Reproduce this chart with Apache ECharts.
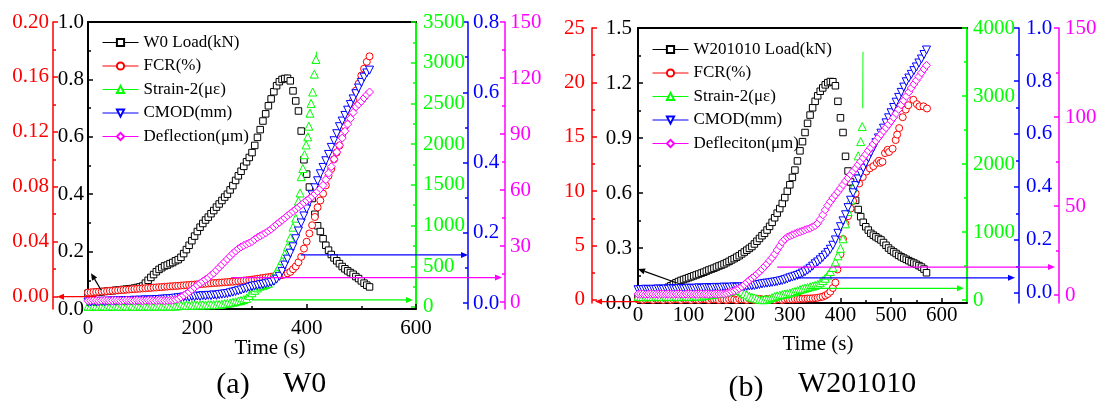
<!DOCTYPE html>
<html>
<head>
<meta charset="utf-8">
<script src="https://cdn.jsdelivr.net/npm/echarts@6/dist/echarts.min.js"></script>
<style>
  html, body { margin: 0; padding: 0; background: #ffffff; }
  #chart { width: 1100px; height: 401px; }
</style>
</head>
<body>
<div id="chart"></div>
<script>
// ---------------- Specimen W0 ----------------
const timeA = [
  0,5,10,15,20,25,30,35,40,45,
  50,55,60,65,70,75,80,85,90,95,
  100,105,110,115,120,125,130,135,140,145,
  150,155,160,165,170,175,180,185,190,195,
  200,205,210,215,220,225,230,235,240,245,
  250,255,260,265,270,275,280,285,290,295,
  300,305,310,315,320,325,330,335,340,345,
  350,355,360,365,370,375,380,385,390,395,
  400,405,410,415,420,425,430,435,440,445,
  450,455,460,465,470,475,480,485,490,495,
  500,505,510,515
];
const loadA = [
  0.055,0.056,0.057,0.058,0.059,0.060,0.061,0.062,0.063,0.064,
  0.065,0.066,0.067,0.068,0.069,0.070,0.071,0.073,0.075,0.077,
  0.080,0.090,0.100,0.110,0.120,0.130,0.138,0.144,0.150,0.153,
  0.158,0.162,0.168,0.172,0.180,0.193,0.207,0.222,0.238,0.254,
  0.270,0.285,0.298,0.310,0.320,0.332,0.343,0.355,0.366,0.378,
  0.390,0.400,0.415,0.430,0.448,0.464,0.480,0.497,0.513,0.528,
  0.545,0.570,0.598,0.625,0.655,0.680,0.708,0.732,0.757,0.778,
  0.792,0.800,0.803,0.804,0.795,0.760,0.725,0.690,0.620,0.520,
  0.470,0.425,0.385,0.330,0.290,0.270,0.245,0.222,0.205,0.190,
  0.178,0.168,0.158,0.148,0.140,0.133,0.127,0.121,0.113,0.106,
  0.098,0.090,0.083,0.077
];
const fcrA = [
  0.0030,0.0031,0.0033,0.0034,0.0036,0.0037,0.0039,0.0040,0.0042,0.0043,
  0.0045,0.0046,0.0048,0.0049,0.0051,0.0052,0.0054,0.0055,0.0057,0.0058,
  0.0060,0.0061,0.0063,0.0064,0.0066,0.0067,0.0069,0.0070,0.0072,0.0073,
  0.0075,0.0076,0.0078,0.0079,0.0081,0.0082,0.0084,0.0085,0.0087,0.0088,
  0.0090,0.0091,0.0093,0.0094,0.0096,0.0097,0.0099,0.0100,0.0102,0.0103,
  0.0105,0.0106,0.0108,0.0109,0.0111,0.0113,0.0115,0.0117,0.0119,0.0121,
  0.0124,0.0127,0.0130,0.0133,0.0136,0.0139,0.0142,0.0145,0.0148,0.0150,
  0.0153,0.0157,0.0163,0.0170,0.0180,0.0200,0.0220,0.0250,0.0290,0.0350,
  0.0400,0.0460,0.0520,0.0580,0.0650,0.0700,0.0750,0.0810,0.0880,0.0930,
  0.1000,0.1050,0.1100,0.1180,0.1240,0.1300,0.1370,0.1430,0.1500,0.1550,
  0.1610,0.1660,0.1710,0.1750
];
const cmodA = [
  0.003,0.003,0.004,0.003,0.004,0.005,0.004,0.005,0.005,0.006,
  0.005,0.006,0.006,0.007,0.006,0.007,0.007,0.008,0.007,0.008,
  0.008,0.009,0.008,0.009,0.009,0.010,0.010,0.011,0.011,0.012,
  0.012,0.013,0.014,0.015,0.016,0.017,0.018,0.017,0.019,0.018,
  0.020,0.019,0.021,0.020,0.022,0.021,0.023,0.022,0.024,0.025,
  0.026,0.027,0.029,0.031,0.033,0.035,0.037,0.040,0.042,0.045,
  0.047,0.049,0.050,0.052,0.053,0.055,0.057,0.059,0.062,0.068,
  0.076,0.090,0.108,0.125,0.142,0.160,0.183,0.205,0.228,0.248,
  0.268,0.288,0.308,0.328,0.348,0.368,0.386,0.405,0.423,0.443,
  0.462,0.482,0.502,0.518,0.534,0.549,0.565,0.581,0.596,0.612,
  0.628,0.643,0.655,0.663
];
const deflA = [
  0.7,0.8,0.9,0.8,0.7,0.8,0.9,0.8,0.7,0.8,
  0.9,0.8,0.7,0.8,0.9,0.8,0.7,0.8,0.9,0.8,
  0.7,0.8,0.9,0.8,0.7,0.8,0.9,0.8,0.7,0.8,
  0.9,1.0,1.2,1.8,2.6,3.5,4.4,5.4,6.6,7.8,
  9.0,10.0,11.0,12.0,13.0,14.3,15.5,17.0,18.5,20.0,
  21.5,23.0,24.5,26.0,27.3,28.5,29.5,30.3,31.0,31.6,
  32.4,33.5,34.6,35.4,36.2,37.0,38.0,39.0,40.3,41.5,
  42.7,43.8,45.0,46.2,47.4,48.5,49.7,50.8,52.0,53.2,
  54.3,55.4,56.5,57.8,59.2,60.7,62.5,65.5,69.0,72.5,
  76.5,80.3,84.0,87.8,91.5,95.3,98.3,101.5,104.5,106.0,
  107.5,109.3,111.0,112.5
];
// strain gauge readings on their own clock; the final reading has no marker
const strainATime = [
  0,5,10,15,20,25,30,35,40,45,
  50,55,60,65,70,75,80,85,90,95,
  100,105,110,115,120,125,130,135,140,145,
  150,155,160,165,170,175,180,185,190,195,
  200,205,210,215,220,225,230,235,240,245,
  250,255,260,265,270,275,280,285,290,295,
  300,305,310,315,320,325,330,335,340,345,
  350,355,360,365,370,375,380,385,
  388,390,393,396,399,402,404,406,408,411,414,417,418
];
const strainA = [
  8,10,9,11,10,8,12,10,9,11,
  10,12,9,10,11,10,12,10,9,11,
  10,12,11,10,13,11,12,10,12,13,
  11,12,12,15,18,20,22,20,24,22,
  25,24,26,25,28,27,30,28,32,35,
  40,45,50,58,65,72,80,92,105,140,
  175,205,235,255,265,275,290,330,380,440,
  500,570,650,740,850,980,1090,1300,
  1400,1600,1700,1870,1990,2090,2220,2380,2500,2640,2860,3040,3135
];

// ---------------- Specimen W201010 ----------------
const timeB = [
  0,5,10,15,20,25,30,35,40,45,
  50,55,60,65,70,75,80,85,90,95,
  100,105,110,115,120,125,130,135,140,145,
  150,155,160,165,170,175,180,185,190,195,
  200,205,210,215,220,225,230,235,240,245,
  250,255,260,265,270,275,280,285,290,295,
  300,305,310,315,320,325,330,335,340,345,
  350,355,360,365,370,375,380,385,390,395,
  400,405,410,415,420,425,430,435,440,445,
  450,455,460,465,470,475,480,485,490,495,
  500,505,510,515,520,525,530,535,540,545,
  550,555,560,565,570
];
const loadB = [
  0.030,0.032,0.034,0.036,0.038,0.040,0.043,0.048,0.055,0.062,
  0.070,0.078,0.086,0.094,0.102,0.110,0.117,0.123,0.128,0.133,
  0.138,0.143,0.148,0.153,0.158,0.163,0.168,0.174,0.180,0.185,
  0.190,0.196,0.202,0.207,0.213,0.220,0.227,0.235,0.242,0.250,
  0.258,0.268,0.278,0.288,0.298,0.308,0.322,0.337,0.352,0.367,
  0.380,0.398,0.418,0.440,0.465,0.490,0.515,0.543,0.575,0.610,
  0.645,0.685,0.725,0.775,0.830,0.880,0.930,0.980,1.025,1.065,
  1.100,1.130,1.155,1.173,1.190,1.202,1.208,1.207,1.185,1.100,
  1.010,0.930,0.800,0.720,0.660,0.625,0.560,0.510,0.471,0.440,
  0.416,0.398,0.380,0.370,0.361,0.352,0.344,0.330,0.315,0.300,
  0.288,0.279,0.270,0.260,0.252,0.245,0.238,0.231,0.224,0.218,
  0.211,0.204,0.196,0.185,0.165
];
const cmodB = [
  0.012,0.013,0.012,0.014,0.013,0.012,0.014,0.013,0.015,0.014,
  0.013,0.015,0.014,0.016,0.015,0.014,0.016,0.017,0.015,0.016,
  0.018,0.017,0.016,0.018,0.019,0.017,0.018,0.020,0.019,0.018,
  0.020,0.021,0.019,0.020,0.022,0.021,0.020,0.022,0.023,0.021,
  0.022,0.023,0.024,0.025,0.026,0.027,0.028,0.030,0.032,0.034,
  0.036,0.037,0.038,0.040,0.041,0.043,0.045,0.047,0.050,0.053,
  0.057,0.060,0.063,0.066,0.070,0.075,0.080,0.086,0.093,0.101,
  0.110,0.117,0.125,0.134,0.143,0.153,0.165,0.180,0.200,0.225,
  0.250,0.272,0.295,0.322,0.350,0.378,0.405,0.430,0.452,0.471,
  0.490,0.510,0.530,0.548,0.567,0.585,0.603,0.622,0.642,0.661,
  0.680,0.700,0.720,0.738,0.757,0.777,0.797,0.811,0.825,0.839,
  0.853,0.868,0.883,0.900,0.917
];
const deflB = [
  0.5,0.6,0.5,0.4,0.5,0.6,0.5,0.5,0.4,0.5,
  0.6,0.5,0.5,0.4,0.5,0.6,0.5,0.5,0.4,0.5,
  0.6,0.5,0.5,0.4,0.5,0.6,0.5,0.5,0.4,0.5,
  0.6,0.5,0.5,0.6,0.7,1.0,1.4,1.9,2.4,3.0,
  3.7,4.6,5.8,7.0,8.3,9.5,10.5,11.8,13.0,14.5,
  16.0,17.5,19.2,21.0,23.0,25.3,27.5,29.7,31.3,32.5,
  33.2,33.8,34.4,35.0,35.5,36.0,36.6,37.1,37.5,38.3,
  39.0,40.2,42.5,45.0,47.8,50.3,52.5,54.5,56.2,58.0,
  60.0,62.0,64.0,65.8,67.6,69.5,71.3,73.2,75.0,77.0,
  79.0,81.0,82.8,84.8,86.6,88.4,90.3,92.2,94.0,95.9,
  97.8,99.8,102.0,104.3,106.8,109.2,111.6,114.0,116.3,118.5,
  120.6,122.7,124.8,127.0,129.0
];
// the last two strain readings carry no marker
const strainBTime = [
  0,5,10,15,20,25,30,35,40,45,
  50,55,60,65,70,75,80,85,90,95,
  100,105,110,115,120,125,130,135,140,145,
  150,155,160,165,170,175,180,185,190,195,
  200,205,210,215,220,225,230,235,240,245,
  250,255,260,265,270,275,280,285,290,295,
  300,305,310,315,320,325,330,335,340,345,
  350,355,360,365,370,375,380,385,390,395,
  400,405,410,415,420,425,430,435,440,443,444,444.5
];
const strainB = [
  50,48,52,50,47,51,53,49,50,52,
  48,51,50,53,49,52,50,54,51,55,
  53,56,54,58,57,60,62,68,74,80,
  85,90,96,102,108,116,125,134,142,148,
  140,120,95,75,55,40,30,20,10,5,
  5,10,20,35,50,62,72,80,88,95,
  105,115,125,140,155,165,175,185,195,205,
  215,230,255,285,320,365,420,480,560,650,
  760,900,1120,1300,1470,1650,1900,2120,2330,2550,2820,3650
];
const fcrBTime = [
  0,5,10,15,20,25,30,35,40,45,
  50,55,60,65,70,75,80,85,90,95,
  100,105,110,115,120,125,130,135,140,145,
  150,155,160,165,170,175,180,185,190,195,
  200,205,210,215,220,225,230,235,240,245,
  250,255,260,265,270,275,280,285,290,295,
  300,305,310,315,320,325,330,335,340,345,
  350,355,360,365,370,375,380,385,390,
  394,400,405,410,415,420,425,430,437,444,
  451,458,465,472,476,479,483,488,493,496,
  503,509,512,516,523,529,534,544,551,556,
  564,571
];
const fcrB = [
  0.05,0.10,0.00,0.05,0.10,0.05,0.00,0.10,0.05,0.05,
  0.00,0.10,0.05,0.00,0.05,0.10,0.05,0.00,0.10,0.05,
  0.05,0.00,0.10,0.05,0.00,0.05,0.10,0.05,0.00,0.10,
  0.05,0.05,0.00,0.10,0.05,0.00,0.05,0.10,0.05,0.00,
  0.10,0.05,0.05,0.00,0.10,0.05,0.00,0.05,0.10,0.05,
  0.00,0.10,0.05,0.05,0.00,0.10,0.05,0.00,0.05,0.10,
  0.05,0.06,0.08,0.09,0.10,0.11,0.12,0.13,0.14,0.15,
  0.17,0.20,0.25,0.30,0.40,0.55,0.76,1.10,1.60,
  2.8,4.2,5.6,7.0,7.7,8.4,9.1,9.8,10.7,11.3,
  11.8,12.1,12.3,12.6,12.8,12.6,12.7,13.5,13.8,13.6,
  13.9,14.7,15.2,15.8,16.8,17.5,17.9,18.4,18.0,17.8,
  17.8,17.6
];

// ---------------- Tick values ----------------
const timeTicksA = [0, 200, 400, 600];
const timeMinorA = [100, 300, 500];
const timeTicksB = [0, 100, 200, 300, 400, 500, 600];
const timeMinorB = [50, 150, 250, 350, 450, 550];

const loadTicksA = [0, 0.2, 0.4, 0.6, 0.8, 1.0];
const loadMinorA = [0.1, 0.3, 0.5, 0.7, 0.9];
const fcrTicksA = [0, 0.04, 0.08, 0.12, 0.16, 0.20];
const fcrMinorA = [0.02, 0.06, 0.10, 0.14, 0.18];
const strainTicksA = [0, 500, 1000, 1500, 2000, 2500, 3000, 3500];
const strainMinorA = [250, 750, 1250, 1750, 2250, 2750, 3250];
const cmodTicksA = [0, 0.2, 0.4, 0.6, 0.8];
const cmodMinorA = [0.1, 0.3, 0.5, 0.7];
const deflTicksA = [0, 30, 60, 90, 120, 150];
const deflMinorA = [15, 45, 75, 105, 135];

const loadTicksB = [0, 0.3, 0.6, 0.9, 1.2, 1.5];
const loadMinorB = [0.15, 0.45, 0.75, 1.05, 1.35];
const fcrTicksB = [0, 5, 10, 15, 20, 25];
const fcrMinorB = [2.5, 7.5, 12.5, 17.5, 22.5];
const strainTicksB = [0, 1000, 2000, 3000, 4000];
const strainMinorB = [500, 1500, 2500, 3500];
const cmodTicksB = [0, 0.2, 0.4, 0.6, 0.8, 1.0];
const cmodMinorB = [0.1, 0.3, 0.5, 0.7, 0.9];
const deflTicksB = [0, 50, 100, 150];
const deflMinorB = [25, 75, 125];

// ---------------- Styling / layout ----------------
const FONT = '"Liberation Serif", "DejaVu Serif", serif';
const COL = { load: '#000000', fcr: '#ff0000', strain: '#00ff00', cmod: '#0000ff', defl: '#ff00ff' };
const LABEL_SIZE = 21;
const GRID_A = { left: 88, top: 22, width: 328, height: 287 };
const GRID_B = { left: 638, top: 28, width: 329, height: 275 };

const xAxes = [];
const yAxes = [];

function addX(grid, min, max, majors, minors, margin) {
  const base = { type: 'value', gridIndex: grid, min: min, max: max, splitLine: { show: false } };
  xAxes.push(Object.assign({}, base, {
    position: 'bottom',
    axisLine: { show: true, onZero: false, lineStyle: { color: '#000', width: 2 } },
    axisTick: { show: true, inside: true, length: 5, customValues: majors, lineStyle: { color: '#000', width: 1.5 } },
    axisLabel: { show: true, customValues: majors, margin: margin, color: '#000', fontFamily: FONT, fontSize: LABEL_SIZE }
  }));
  const main = xAxes.length - 1;
  xAxes.push(Object.assign({}, base, {
    position: 'bottom',
    axisLine: { show: false, onZero: false },
    axisLabel: { show: false },
    axisTick: { show: true, inside: true, length: 3, customValues: minors, lineStyle: { color: '#000', width: 1.5 } }
  }));
  xAxes.push(Object.assign({}, base, {
    position: 'top',
    axisLine: { show: true, onZero: false, lineStyle: { color: '#000', width: 2 } },
    axisTick: { show: false },
    axisLabel: { show: false }
  }));
  return main;
}

function addY(grid, pos, offset, min, max, majors, minors, color, fmt, margin, lineWidth) {
  const base = { type: 'value', gridIndex: grid, position: pos, offset: offset, min: min, max: max, splitLine: { show: false } };
  yAxes.push(Object.assign({}, base, {
    axisLine: { show: true, onZero: false, lineStyle: { color: color, width: lineWidth } },
    axisTick: { show: true, inside: true, length: 5, customValues: majors, lineStyle: { color: color, width: 1.5 } },
    axisLabel: { show: true, customValues: majors, formatter: fmt, margin: margin, color: color, fontFamily: FONT, fontSize: LABEL_SIZE }
  }));
  const main = yAxes.length - 1;
  yAxes.push(Object.assign({}, base, {
    axisLine: { show: false, onZero: false },
    axisLabel: { show: false },
    axisTick: { show: true, inside: true, length: 3, customValues: minors, lineStyle: { color: color, width: 1.5 } }
  }));
  return main;
}

const f0 = v => String(Math.round(v));
const f1 = v => v.toFixed(1);
const f2 = v => v.toFixed(2);

// panel (a)
const xA = addX(0, 0, 600, timeTicksA, timeMinorA, 9);
const yLoadA = addY(0, 'left', 0, 0, 1.0, loadTicksA, loadMinorA, COL.load, f1, 4, 2);
const yFcrA = addY(0, 'left', 35, -0.009, 0.2, fcrTicksA, fcrMinorA, COL.fcr, f2, 4, 1.5);
const yStrainA = addY(0, 'right', 0, -25, 3500, strainTicksA, strainMinorA, COL.strain, f0, 7, 2);
const yCmodA = addY(0, 'right', 52, -0.017, 0.8, cmodTicksA, cmodMinorA, COL.cmod, f1, 5, 1.5);
const yDeflA = addY(0, 'right', 89, -3.75, 150, deflTicksA, deflMinorA, COL.defl, f0, 5, 1.5);
// panel (b)
const xB = addX(1, 0, 650, timeTicksB, timeMinorB, 2);
const yLoadB = addY(1, 'left', 0, 0, 1.5, loadTicksB, loadMinorB, COL.load, f1, 6, 2);
const yFcrB = addY(1, 'left', 46, -0.28, 25, fcrTicksB, fcrMinorB, COL.fcr, f0, 7, 1.5);
const yStrainB = addY(1, 'right', 0, -44, 4000, strainTicksB, strainMinorB, COL.strain, f0, 6, 2);
const yCmodB = addY(1, 'right', 52, -0.038, 1.0, cmodTicksB, cmodMinorB, COL.cmod, f1, 7, 1.5);
const yDeflB = addY(1, 'right', 92, -4.5, 150, deflTicksB, deflMinorB, COL.defl, f0, 6, 1.5);

// Markers only: consecutive readings sit closer than the symbol gap, so the
// connecting line only shows where the last readings jump (see tailLine).
function curve(name, xi, yi, times, vals, symbol, size, color, rotate, bare) {
  const n = times.length;
  const data = times.map((t, i) => {
    const p = [t, vals[i]];
    return (bare && i >= n - bare) ? { value: p, symbol: 'none' } : p;
  });
  return {
    type: 'line', name: name, xAxisIndex: xi, yAxisIndex: yi, data: data,
    symbol: symbol, symbolSize: size, symbolRotate: rotate || 0, showAllSymbol: true,
    lineStyle: { color: color, width: 1, opacity: 0 },
    itemStyle: { color: '#ffffff', borderColor: color, borderWidth: 1 },
    emphasis: { disabled: true }, animation: false, z: 3
  };
}
function tailLine(xi, yi, times, vals, color) {
  const n = times.length;
  return {
    type: 'line', name: '_tail', xAxisIndex: xi, yAxisIndex: yi,
    data: [[times[n - 2], vals[n - 2]], [times[n - 1], vals[n - 1]]],
    symbol: 'none', lineStyle: { color: color, width: 1 },
    emphasis: { disabled: true }, animation: false, z: 2, silent: true
  };
}

const series = [
  curve('W0 Load(kN)', xA, yLoadA, timeA, loadA, 'rect', 6.5, COL.load),
  curve('FCR(%)', xA, yFcrA, timeA, fcrA, 'circle', 7, COL.fcr),
  tailLine(xA, yStrainA, strainATime, strainA, COL.strain),
  curve('Strain-2(με)', xA, yStrainA, strainATime, strainA, 'triangle', 8, COL.strain, 0, 1),
  curve('CMOD(mm)', xA, yCmodA, timeA, cmodA, 'triangle', 8, COL.cmod, 180),
  curve('Deflection(μm)', xA, yDeflA, timeA, deflA, 'diamond', 8, COL.defl),

  curve('W201010 Load(kN)', xB, yLoadB, timeB, loadB, 'rect', 6.5, COL.load),
  curve('FCR(%)', xB, yFcrB, fcrBTime, fcrB, 'circle', 7, COL.fcr),
  tailLine(xB, yStrainB, strainBTime, strainB, COL.strain),
  curve('Strain-2(με)', xB, yStrainB, strainBTime, strainB, 'triangle', 8, COL.strain, 0, 2),
  curve('CMOD(mm)', xB, yCmodB, timeB, cmodB, 'triangle', 8, COL.cmod, 180),
  curve('Defleciton(μm)', xB, yDeflB, timeB, deflB, 'diamond', 8, COL.defl)
];
// series indices used for the pointer arrows
const S = { loadA: 0, fcrA: 1, strainA: 3, cmodA: 4, deflA: 5, loadB: 6, fcrB: 7, strainB: 9, cmodB: 10, deflB: 11 };

const legendBase = {
  orient: 'vertical', itemWidth: 36, itemHeight: 9, itemGap: 6.5, padding: 0,
  selectedMode: false, lineStyle: { opacity: 1, width: 1 },
  textStyle: { fontFamily: FONT, fontSize: 17, color: '#000' }
};

const chart = echarts.init(document.getElementById('chart'), null, { renderer: 'canvas' });
chart.setOption({
  animation: false,
  backgroundColor: '#ffffff',
  textStyle: { fontFamily: FONT },
  grid: [
    Object.assign({ containLabel: false, outerBoundsMode: 'none' }, GRID_A),
    Object.assign({ containLabel: false, outerBoundsMode: 'none' }, GRID_B)
  ],
  xAxis: xAxes,
  yAxis: yAxes,
  legend: [
    Object.assign({}, legendBase, { left: 102, top: 34,
      data: ['W0 Load(kN)', 'FCR(%)', 'Strain-2(με)', 'CMOD(mm)', 'Deflection(μm)'] }),
    Object.assign({}, legendBase, { left: 652, top: 41,
      data: ['W201010 Load(kN)', 'FCR(%)', 'Strain-2(με)', 'CMOD(mm)', 'Defleciton(μm)'] })
  ],
  series: series
});

// ---------------- Pointer arrows and captions ----------------
function px(seriesIndex, t, v) {
  return chart.convertToPixel({ seriesIndex: seriesIndex }, [t, v]);
}
function arrow(p0, p1, color) {
  const dx = p1[0] - p0[0], dy = p1[1] - p0[1];
  const len = Math.sqrt(dx * dx + dy * dy) || 1;
  const ux = dx / len, uy = dy / len, nx = -uy, ny = ux;
  const hl = 7, hw = 3;
  const bx = p1[0] - ux * hl, by = p1[1] - uy * hl;
  return [
    { type: 'line', z: 100, shape: { x1: p0[0], y1: p0[1], x2: bx, y2: by }, style: { stroke: color, lineWidth: 1.2 } },
    { type: 'polygon', z: 100, shape: { points: [[p1[0], p1[1]], [bx + nx * hw, by + ny * hw], [bx - nx * hw, by - ny * hw]] }, style: { fill: color } }
  ];
}
function toAxis(seriesIndex, t, v, axisX, color) {
  const p0 = px(seriesIndex, t, v);
  return arrow(p0, [axisX, p0[1]], color);
}

const rightA = GRID_A.left + GRID_A.width;
const rightB = GRID_B.left + GRID_B.width;
let g = [];
// panel (a)
g = g.concat(arrow(px(S.loadA, 24, 0.066), px(S.loadA, 5.5, 0.125), COL.load));
g = g.concat(toAxis(S.fcrA, 15, 0, GRID_A.left - 35 + 4, COL.fcr));
g = g.concat(toAxis(S.strainA, 300, 86, rightA - 3, COL.strain));
g = g.concat(toAxis(S.cmodA, 389, 0.137, rightA + 52, COL.cmod));
g = g.concat(toAxis(S.deflA, 262, 13.1, rightA + 89 - 3, COL.defl));
// panel (b)
g = g.concat(arrow(px(S.loadB, 77, 0.109), px(S.loadB, 0, 0.185), COL.load));
g = g.concat(toAxis(S.fcrB, 0, -0.15, GRID_B.left - 46 + 3, COL.fcr));
g = g.concat(toAxis(S.strainB, 333, 172, rightB - 3, COL.strain));
g = g.concat(toAxis(S.cmodB, 313, 0.057, rightB + 52 - 4, COL.cmod));
g = g.concat(toAxis(S.deflB, 275, 15.7, rightB + 92 - 4, COL.defl));

function txt(text, x, y, size, align) {
  return { type: 'text', z: 100, x: x, y: y,
    style: { text: text, font: size + 'px ' + FONT, fill: '#000', align: align, verticalAlign: 'middle' } };
}
g.push(txt('Time (s)', 270, 348, 21, 'center'));
g.push(txt('Time (s)', 818, 344, 21, 'center'));
g.push(txt('(a)', 233, 385, 30, 'center'));
g.push(txt('W0', 283, 384, 30, 'left'));
g.push(txt('(b)', 746, 388, 30, 'center'));
g.push(txt('W201010', 798, 384, 30, 'left'));

chart.setOption({ graphic: g });
</script>
</body>
</html>
